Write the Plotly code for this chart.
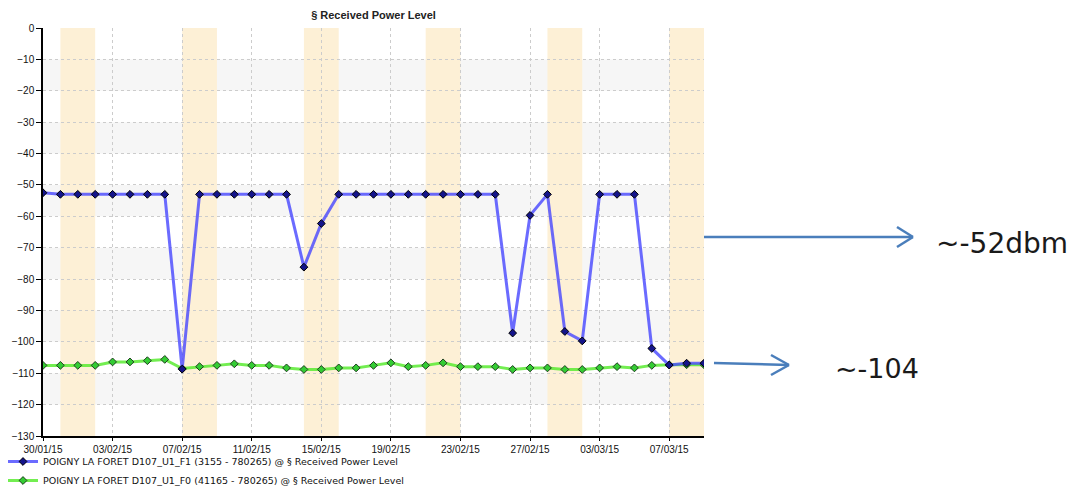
import plotly.graph_objects as go
import pandas as pd

# ---- data ----
dates = pd.date_range("2015-01-30", "2015-03-09", freq="D")
f1_values = [-52.5, -53, -53, -53, -53, -53, -53, -53,          # 30/01 - 06/02
             -108.7, -53, -53, -53, -53, -53, -53,              # 07/02 - 13/02
             -76.2, -62.3, -53, -53, -53, -53, -53, -53, -53, -53, -53, -53,  # 14/02 - 25/02
             -97.2, -59.7, -53, -96.7, -99.7,                   # 26/02 - 02/03
             -53, -53, -53, -102.1, -107.4, -106.8, -106.8]     # 03/03 - 09/03
f0_values = [-107.5, -107.5, -107.5, -107.5, -106.4, -106.4, -106.0, -105.6,   # 30/01 - 06/02
             -108.5, -107.9, -107.5, -107.0, -107.5, -107.5, -108.3,           # 07/02 - 13/02
             -108.8, -108.8, -108.3, -108.3, -107.5, -106.7, -107.9, -107.5,   # 14/02 - 21/02
             -106.7, -107.9, -107.9, -107.9, -108.8, -108.3, -108.3,           # 22/02 - 28/02
             -108.8, -108.8, -108.3, -107.9, -108.3, -107.5, -107.3, -107.3, -107.3]  # 01/03 - 09/03
f1_name = "POIGNY LA FORET D107_U1_F1 (3155 - 780265) @ § Received Power Level"
f0_name = "POIGNY LA FORET D107_U1_F0 (41165 - 780265) @ § Received Power Level"
title = "§ Received Power Level"
x_ticks = pd.date_range("2015-01-30", "2015-03-09", freq="4D")
y_ticks = list(range(0, -131, -10))
weekend_starts = ["2015-01-31", "2015-02-07", "2015-02-14", "2015-02-21", "2015-02-28", "2015-03-07"]
annot_texts = ["~-52dbm", "~-104"]

# ---- geometry (screen pixels; page body has an 8px margin) ----
OFF = 8
SW, SH = 1076, 487
W, H = SW - OFF, SH - OFF
L, R, T, B = 43, 704, 28, 436   # plot area in screen pixels
def px(X):
    return (X - L) / (R - L)
def py(Y):
    return (B - Y) / (B - T)

fig = go.Figure()

fig.add_trace(go.Scatter(
    x=dates, y=f0_values, name=f0_name, mode="lines+markers", legendrank=2,
    line=dict(color="rgba(90,235,50,0.85)", width=3),
    marker=dict(symbol="diamond", size=6, color="#33cc33", line=dict(color="#1f3d1f", width=1)),
))
fig.add_trace(go.Scatter(
    x=dates, y=f1_values, name=f1_name, mode="lines+markers", legendrank=1,
    line=dict(color="rgba(70,70,255,0.8)", width=3),
    marker=dict(symbol="diamond", size=6, color="#14148a", line=dict(color="#000000", width=1)),
))

shapes = []
# alternating horizontal bands
for top in range(-10, -130, -20):
    shapes.append(dict(type="rect", xref="paper", yref="y", x0=0, x1=1, y0=top, y1=top - 10,
                       fillcolor="#f6f6f6", line=dict(width=0), layer="below"))
# weekend bands
for ws in weekend_starts:
    s = pd.Timestamp(ws)
    e = min(s + pd.Timedelta(days=2), dates[-1])
    shapes.append(dict(type="rect", xref="x", yref="paper", x0=s, x1=e, y0=0, y1=1,
                       fillcolor="#fdf0d6", line=dict(width=0), layer="below"))

arrow_col = "#4a7ebb"
def arrow(x0, y0, x1, y1, hx, hy1, hy2):
    shapes.append(dict(type="line", xref="paper", yref="paper", x0=px(x0), y0=py(y0), x1=px(x1), y1=py(y1),
                       line=dict(color=arrow_col, width=2.5)))
    shapes.append(dict(type="line", xref="paper", yref="paper", x0=px(hx), y0=py(hy1), x1=px(x1), y1=py(y1),
                       line=dict(color=arrow_col, width=2.5)))
    shapes.append(dict(type="line", xref="paper", yref="paper", x0=px(hx), y0=py(hy2), x1=px(x1), y1=py(y1),
                       line=dict(color=arrow_col, width=2.5)))

arrow(704, 237, 913, 237, 897, 227, 247)
arrow(714, 363, 789, 365, 771, 355, 375)

annotations = [
    dict(text=annot_texts[0], xref="paper", yref="paper", x=px(934), y=py(243), xanchor="left", yanchor="middle",
         showarrow=False, font=dict(family="DejaVu Sans", size=28, color="#1a1a1a")),
    dict(text=annot_texts[1], xref="paper", yref="paper", x=px(833), y=py(368), xanchor="left", yanchor="middle",
         showarrow=False, font=dict(family="DejaVu Sans", size=27, color="#1a1a1a")),
]

fig.update_layout(
    width=W, height=H,
    margin=dict(l=L - OFF, r=SW - R, t=T - OFF, b=SH - B, pad=0, autoexpand=False),
    paper_bgcolor="white", plot_bgcolor="white",
    title=dict(text="<b>" + title + "</b>", x=px((L + R) / 2), xref="paper", y=1 - (15 - OFF) / H,
               yanchor="middle", xanchor="center",
               font=dict(family="Liberation Sans", size=11, color="#222")),
    font=dict(family="Liberation Sans", size=10, color="#111"),
    showlegend=True,
    legend=dict(x=px(3), y=py(447), xanchor="left", yanchor="top", orientation="v",
                font=dict(family="DejaVu Sans", size=9.5, color="#111"), bgcolor="rgba(0,0,0,0)",
                itemwidth=30, tracegroupgap=0),
    shapes=shapes, annotations=annotations,
)
fig.update_xaxes(
    range=[dates[0], dates[-1]], tickvals=x_ticks, ticktext=[d.strftime("%d/%m/%y") for d in x_ticks],
    showgrid=True, gridcolor="#cccccc", griddash="dot", gridwidth=1, automargin=False,
    showline=True, linecolor="#000", linewidth=1.5, ticks="outside", ticklen=3, tickcolor="#000",
    zeroline=False, tickfont=dict(size=10),
)
fig.update_yaxes(
    range=[-130, 0], tickvals=y_ticks, automargin=False,
    showgrid=True, gridcolor="#cccccc", griddash="dot", gridwidth=1,
    showline=True, linecolor="#000", linewidth=1.5, ticks="outside", ticklen=5, tickcolor="#000",
    zeroline=False, tickfont=dict(size=10),
)

fig.write_html("out.html")
